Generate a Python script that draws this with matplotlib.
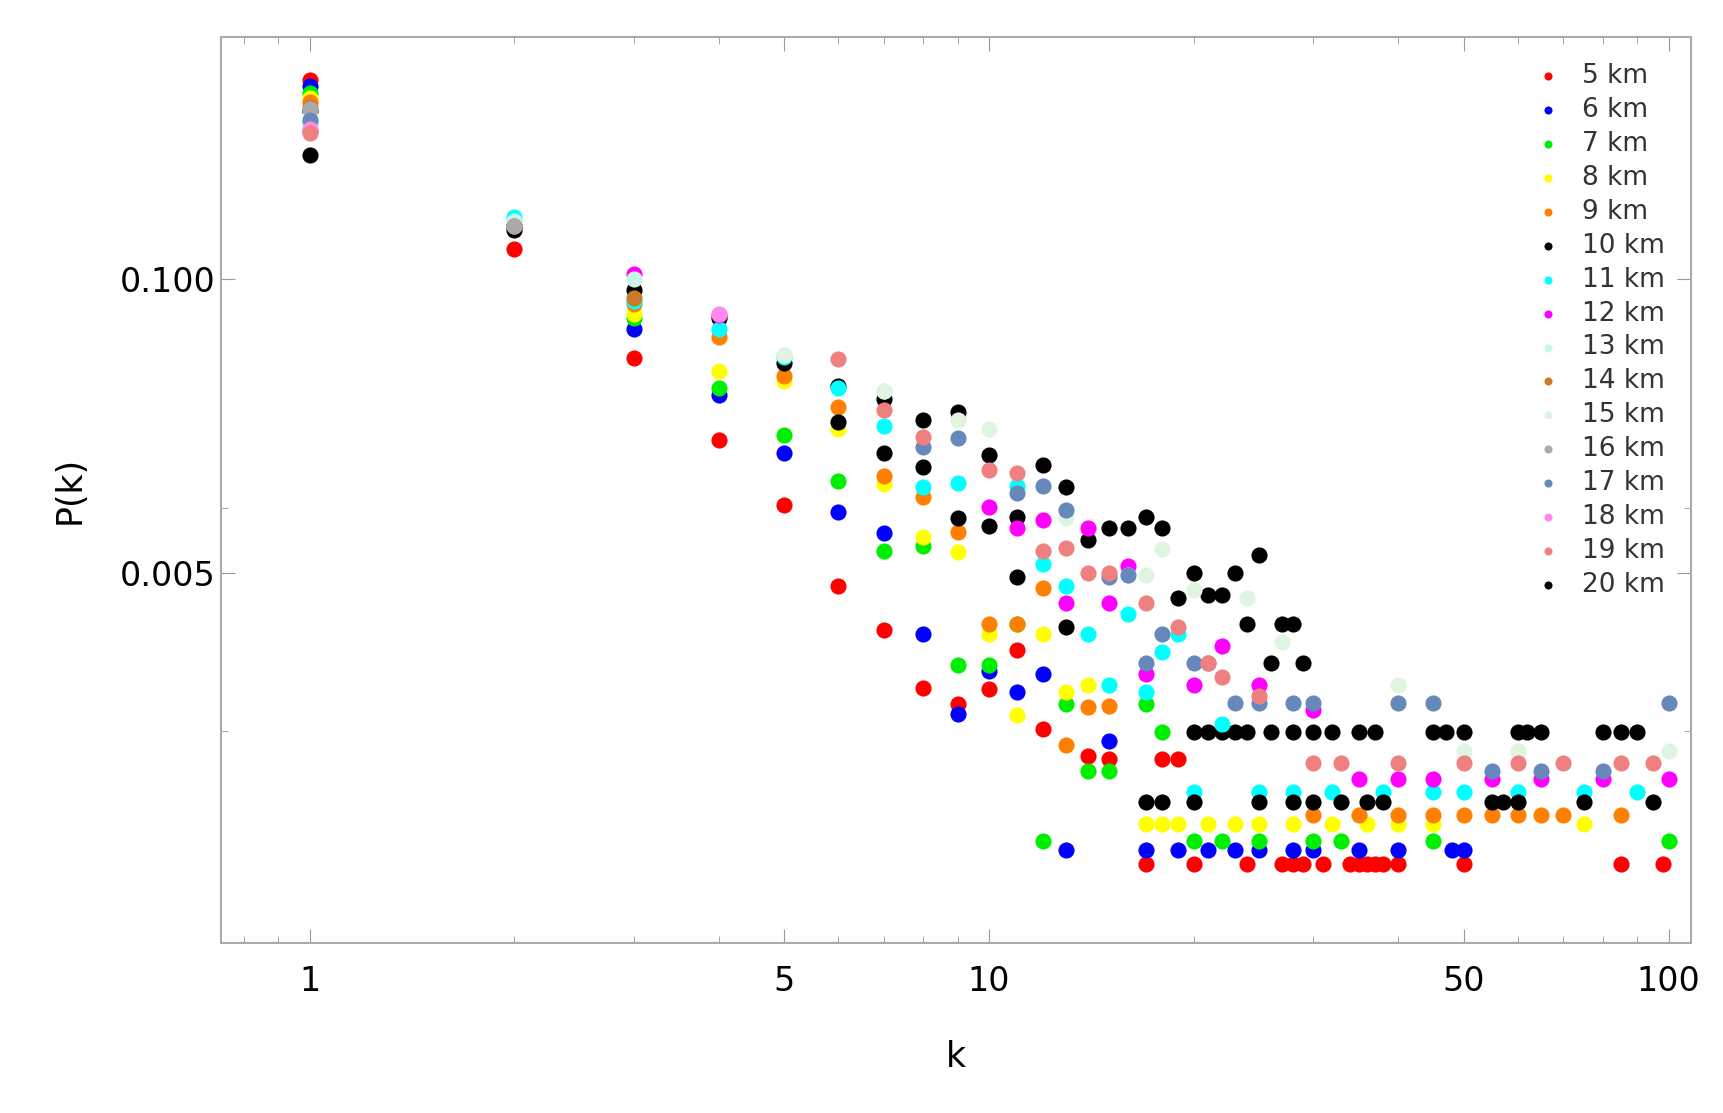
import matplotlib.pyplot as plt
from matplotlib.ticker import FixedLocator, NullFormatter

labels = ['5 km', '6 km', '7 km', '8 km', '9 km', '10 km', '11 km', '12 km',
          '13 km', '14 km', '15 km', '16 km', '17 km', '18 km', '19 km', '20 km']
colors = ['#ff0000', '#0000ff', '#00ee00', '#ffff00', '#ff8000', '#000000',
          '#00ffff', '#ff00ff', '#c8f5e6', '#cc7a29', '#e0f5e0', '#aaaaaa',
          '#6688bb', '#ff88ee', '#f08080', '#000000']

k_5 = [1, 2, 3, 4, 5, 6, 7, 8, 9, 10, 11, 12, 14, 15, 17, 18, 19, 20, 24, 27, 28, 29, 31, 34, 35, 36, 37, 38, 40, 50, 85, 98]
p_5 = [0.75, 0.135, 0.0446, 0.0194, 0.0100, 0.0044, 0.0028, 0.00156, 0.00132, 0.00154, 0.0023, 0.00103, 0.00078, 0.00076,
       0.00026, 0.00076, 0.00076, 0.00026, 0.00026, 0.00026, 0.00026, 0.00026, 0.00026, 0.00026, 0.00026, 0.00026,
       0.00026, 0.00026, 0.00026, 0.00026, 0.00026, 0.00026]

k_6 = [1, 2, 3, 4, 5, 6, 7, 8, 9, 10, 11, 12, 13, 15, 17, 19, 21, 23, 25, 28, 30, 35, 40, 48, 50]
p_6 = [0.71, 0.17, 0.060, 0.0307, 0.0170, 0.0093, 0.0075, 0.0027, 0.0012, 0.00185, 0.0015, 0.0018, 0.00030, 0.00091,
       0.0003, 0.0003, 0.0003, 0.0003, 0.0003, 0.0003, 0.0003, 0.0003, 0.0003, 0.0003, 0.0003]

k_7 = [1, 2, 3, 4, 5, 6, 7, 8, 9, 10, 11, 12, 13, 14, 15, 17, 18, 20, 22, 25, 30, 33, 45, 100]
p_7 = [0.66, 0.17, 0.067, 0.033, 0.0205, 0.0128, 0.0063, 0.0066, 0.00197, 0.00197, 0.0030, 0.00033, 0.00133, 0.00067,
       0.00067, 0.00133, 0.0010, 0.00033, 0.00033, 0.00033, 0.00033, 0.00033, 0.00033, 0.00033]

k_8 = [1, 2, 3, 4, 5, 6, 7, 8, 9, 10, 11, 12, 13, 14, 17, 18, 19, 21, 23, 25, 28, 32, 36, 40, 45, 75]
p_8 = [0.63, 0.17, 0.070, 0.039, 0.0352, 0.0217, 0.0124, 0.0072, 0.0062, 0.0027, 0.00118, 0.0027, 0.0015, 0.0016,
       0.00039, 0.00039, 0.00039, 0.00039, 0.00039, 0.00039, 0.00039, 0.00039, 0.00039, 0.00039, 0.00039, 0.00039]

k_9 = [1, 2, 3, 4, 5, 6, 7, 8, 9, 10, 11, 12, 13, 14, 15, 30, 35, 40, 45, 50, 55, 60, 65, 70, 85]
p_9 = [0.60, 0.17, 0.077, 0.055, 0.037, 0.0272, 0.0135, 0.0109, 0.0076, 0.0030, 0.0030, 0.0043, 0.00087, 0.00128,
       0.0013, 0.00043, 0.00043, 0.00043, 0.00043, 0.00043, 0.00043, 0.00043, 0.00043, 0.00043, 0.00043]

k_10 = [1, 2, 3, 4, 5, 6, 7, 8, 9, 10, 11, 12, 13, 14, 15, 16, 17, 18, 19, 20, 21, 22, 23, 24, 25, 26, 27, 28, 29,
        20, 21, 22, 23, 24, 26, 28, 30, 32, 35, 37, 45, 47, 50, 60, 62, 65, 80, 85, 90]
p_10 = [0.55, 0.164, 0.089, 0.067, 0.0426, 0.0336, 0.0294, 0.0238, 0.0257, 0.0166, 0.0089, 0.0150, 0.0120, 0.0070,
        0.0079, 0.0079, 0.0089, 0.0079, 0.0039, 0.0050, 0.0040, 0.0040, 0.0050, 0.0030, 0.0060, 0.0020, 0.0030,
        0.0030, 0.0020, 0.0010, 0.0010, 0.0010, 0.0010, 0.0010, 0.0010, 0.0010, 0.0010, 0.0010, 0.0010, 0.0010,
        0.0010, 0.0010, 0.0010, 0.0010, 0.0010, 0.0010, 0.0010, 0.0010, 0.0010]

k_11 = [1, 2, 3, 4, 5, 6, 7, 8, 9, 11, 12, 13, 14, 15, 16, 17, 18, 19, 20, 22, 25, 28, 32, 38, 45, 50, 60, 75, 90]
p_11 = [0.49, 0.188, 0.080, 0.060, 0.045, 0.033, 0.0224, 0.0120, 0.0125, 0.0121, 0.0055, 0.0044, 0.0027, 0.0016,
        0.0033, 0.0015, 0.00224, 0.0027, 0.00054, 0.00108, 0.00054, 0.00054, 0.00054, 0.00054, 0.00054, 0.00054,
        0.00054, 0.00054, 0.00054]

k_12 = [1, 2, 3, 4, 10, 11, 12, 13, 14, 15, 16, 17, 20, 22, 25, 30, 35, 40, 45, 55, 65, 80, 100]
p_12 = [0.45, 0.17, 0.105, 0.069, 0.0098, 0.0079, 0.0086, 0.0037, 0.0079, 0.0037, 0.0054, 0.0018, 0.0016, 0.0024,
        0.0016, 0.00124, 0.00062, 0.00062, 0.00062, 0.00062, 0.00062, 0.00062, 0.00062]

k_13 = [1, 2, 3, 5, 7]
p_13 = [0.47, 0.18, 0.100, 0.046, 0.032]

k_14 = [1, 2, 3]
p_14 = [0.57, 0.17, 0.082]

k_15 = [1, 5, 7, 9, 10, 13, 16, 17, 18, 20, 24, 27, 40, 50, 60, 100]
p_15 = [0.52, 0.046, 0.032, 0.0238, 0.0217, 0.0088, 0.0049, 0.0049, 0.0064, 0.0042, 0.0039, 0.0025, 0.0016, 0.00082,
        0.00082, 0.00082]

k_16 = [1, 2]
p_16 = [0.56, 0.17]

k_17 = [1, 8, 9, 11, 12, 13, 15, 16, 17, 18, 20, 21, 23, 25, 28, 30, 40, 45, 55, 65, 80, 100]
p_17 = [0.50, 0.0181, 0.0198, 0.0113, 0.0121, 0.0095, 0.0048, 0.0049, 0.0020, 0.0027, 0.0020, 0.0020, 0.00134,
        0.00134, 0.00134, 0.00134, 0.00134, 0.00134, 0.00067, 0.00067, 0.00067, 0.00134]

k_18 = [1, 4]
p_18 = [0.46, 0.070]

k_19 = [1, 6, 7, 8, 10, 11, 12, 13, 14, 15, 17, 19, 21, 22, 25, 30, 33, 40, 50, 60, 70, 85, 95]
p_19 = [0.44, 0.044, 0.0263, 0.0200, 0.0143, 0.0138, 0.0063, 0.0065, 0.0050, 0.0050, 0.0037, 0.0029, 0.0020,
        0.00175, 0.00143, 0.00073, 0.00073, 0.00073, 0.00073, 0.00073, 0.00073, 0.00073, 0.00073]

k_20 = [1, 6, 7, 8, 9, 10, 11, 13, 17, 18, 20, 25, 28, 30, 33, 36, 38, 55, 57, 60, 75, 95]
p_20 = [0.35, 0.0232, 0.0170, 0.0147, 0.0088, 0.0081, 0.0048, 0.0029, 0.00049, 0.00049, 0.00049, 0.00049, 0.00049,
        0.00049, 0.00049, 0.00049, 0.00049, 0.00049, 0.00049, 0.00049, 0.00049, 0.00049]

ks = [k_5, k_6, k_7, k_8, k_9, k_10, k_11, k_12, k_13, k_14, k_15, k_16, k_17, k_18, k_19, k_20]
ps = [p_5, p_6, p_7, p_8, p_9, p_10, p_11, p_12, p_13, p_14, p_15, p_16, p_17, p_18, p_19, p_20]

fig = plt.figure(figsize=(17.24, 11.13), dpi=100)
ax = fig.add_axes([0.128, 0.153, 0.853, 0.814])

for k, p, c, lab in zip(ks, ps, colors, labels):
    ax.scatter(k, p, s=135, color=c, label=lab, linewidths=0)

ax.set_xscale('log')
ax.set_yscale('log')
ax.set_xlim(0.74, 108)
ax.set_ylim(0.000117, 1.17)

ax.xaxis.set_major_locator(FixedLocator([1, 5, 10, 50, 100]))
ax.set_xticklabels(['1', '5', '10', '50', '100'])
ax.xaxis.set_minor_locator(FixedLocator([0.8, 0.9, 2, 3, 4, 6, 7, 8, 9, 20, 30, 40, 60, 70, 80, 90]))
ax.xaxis.set_minor_formatter(NullFormatter())
ax.yaxis.set_major_locator(FixedLocator([0.1, 0.005]))
ax.set_yticklabels(['0.100', '0.005'])
ax.yaxis.set_minor_locator(FixedLocator([0.0097, 0.00101]))
ax.yaxis.set_minor_formatter(NullFormatter())

ax.tick_params(which='both', direction='in', top=True, right=True, colors='#999999',
               labelcolor='black', labelsize=24)
ax.tick_params(which='major', length=10)
ax.tick_params(which='minor', length=5)
ax.tick_params(axis='x', pad=16)
for s in ax.spines.values():
    s.set_color('#aaaaaa')
    s.set_linewidth(1.5)

ax.set_xlabel('k', fontsize=25, labelpad=30)
ax.set_ylabel('P(k)', fontsize=25, labelpad=24)

ax.legend(loc='upper right', frameon=False, fontsize=19, markerscale=0.5,
          handletextpad=0.3, labelspacing=0.3, borderaxespad=0.6, labelcolor='#333333')

fig.savefig('out.png')
